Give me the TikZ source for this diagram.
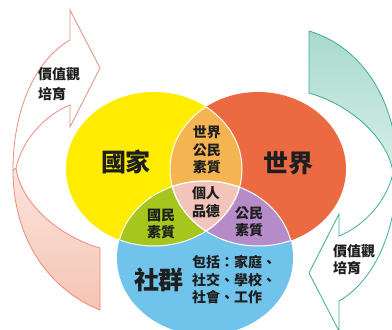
\documentclass[tikz,border=0pt]{standalone}
\usepackage{fontspec}
\newfontfamily\cjk[Script=CJK,Language=Chinese Traditional]{Noto Sans CJK TC}
\definecolor{cyellow}{RGB}{255,236,0}
\definecolor{corange}{RGB}{236,106,66}
\definecolor{cblue}{RGB}{112,196,236}
\definecolor{clensYO}{RGB}{245,180,82}
\definecolor{clensYB}{RGB}{166,198,30}
\definecolor{clensOB}{RGB}{182,140,200}
\definecolor{ctriple}{RGB}{242,196,186}
\definecolor{pinkline}{RGB}{232,140,124}
\definecolor{pinkfill}{RGB}{246,196,180}
\definecolor{tealline}{RGB}{60,172,150}
\definecolor{tealfill}{RGB}{168,218,204}
\definecolor{txt}{RGB}{30,30,30}
\tikzset{
  big/.style={font=\cjk\bfseries\fontsize{25}{27}\selectfont, text=txt, inner sep=0pt},
  small/.style={font=\cjk\bfseries\fontsize{14}{17.5}\selectfont, text=txt, inner sep=0pt, align=center},
  arrowline/.style={line width=0.8pt, line join=miter},
  sep/.style={draw=white, line width=1pt}
}
\begin{document}
\begin{tikzpicture}[x=1pt,y=-1pt]
\useasboundingbox (0,0) rectangle (392,330);
\clip (0,0) rectangle (392,330);
\fill[white] (0,0) rectangle (392,330);
% ellipses
\def\Yell{(154,169) ellipse [x radius=88pt, y radius=77pt]}
\def\Oell{(258,169) ellipse [x radius=88pt, y radius=77pt]}
\def\Bell{(205,258) ellipse [x radius=88pt, y radius=77pt]}
\fill[cyellow] \Yell;
\fill[corange] \Oell;
\fill[cblue] \Bell;
\begin{scope}\clip \Yell; \fill[clensYO] \Oell; \end{scope}
\begin{scope}\clip \Yell; \fill[clensYB] \Bell; \end{scope}
\begin{scope}\clip \Oell; \fill[clensOB] \Bell; \end{scope}
\begin{scope}\clip \Yell; \clip \Oell; \fill[ctriple] \Bell; \end{scope}
\begin{scope}\clip \Yell; \draw[sep] \Oell; \draw[sep] \Bell; \end{scope}
\begin{scope}\clip \Oell; \draw[sep] \Yell; \draw[sep] \Bell; \end{scope}
\begin{scope}\clip \Bell; \draw[sep] \Yell; \draw[sep] \Oell; \end{scope}
% pink arrow (left)
\path[arrowline, draw=pinkline, top color=pinkfill!45, bottom color=pinkfill]
  (13,170) .. controls (13,240) and (50,290) .. (100,310) -- (100,248)
  .. controls (55,235) and (20,200) .. (16,168) -- cycle;
\path[arrowline, draw=pinkline, fill=white]
  (13,170) .. controls (13,110) and (35,60) .. (70,40) -- (70,10) -- (100,68)
  -- (70,127) -- (70,105) .. controls (45,115) and (22,140) .. (16,168) -- cycle;
% teal arrow (right)
\path[arrowline, draw=tealline, top color=tealfill, bottom color=tealfill!45]
  (397,171) .. controls (398,103) and (363,47) .. (309,31) -- (309,93)
  .. controls (354,106) and (389,141) .. (393,173) -- cycle;
\path[arrowline, draw=tealline, fill=white]
  (397,171) .. controls (397,231) and (374,281) .. (339,301) -- (339,331)
  -- (309,273) -- (339,214) -- (339,236) .. controls (364,226) and (387,201) .. (393,173) -- cycle;
% texts
\node[big] (guojia) at (126,162) {國家};
\node[big] (shijie) at (288,163) {世界};
\node[big] (shequn) at (159,280) {社群};
\node[small] (sjgm) at (207,150) {世界\\公民\\素質};
\node[small] (grpd) at (206,202) {個人\\品德};
\node[small] (gmsz) at (161,224) {國民\\素質};
\node[small] (gmsz2) at (249,222) {公民\\素質};
\node[small, align=left, anchor=west] (bk) at (192,280) {包括：家庭、\\社交、學校、\\社會、工作};
\node[small, align=left, anchor=west, font=\cjk\bfseries\fontsize{14}{20}\selectfont] (jzl) at (38,84) {價值觀\\培育};
\node[small, align=left, anchor=west, font=\cjk\bfseries\fontsize{14}{17}\selectfont] (jzr) at (333,260) {價值觀\\培育};
\end{tikzpicture}
\end{document}
